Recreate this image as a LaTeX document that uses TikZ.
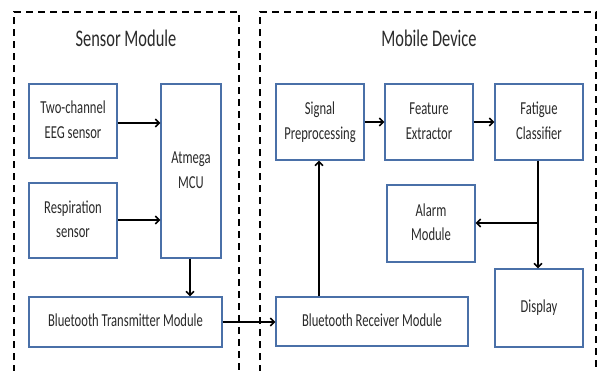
\documentclass[tikz,border=0pt]{standalone}
\usepackage{fontspec}
\setmainfont{Carlito}
\usetikzlibrary{arrows.meta}
\definecolor{boxblue}{HTML}{4A70A8}
\definecolor{txt}{HTML}{2A2A2A}
\newcommand\tx[1]{\scalebox{1}[1.45]{\begin{tabular}{@{}c@{}}#1\end{tabular}}}
\tikzset{
  blk/.style={draw=boxblue, line width=1.3pt, fill=white, inner sep=0pt, text=txt, font=\fontsize{12.6}{17}\selectfont},
  arr/.style={line width=1.5pt, -{Straight Barb[length=4pt,width=8pt]}},
  plain/.style={line width=1.5pt},
  frame/.style={line width=1.4pt, dash pattern=on 7pt off 5pt},
  ttl/.style={text=txt, font=\fontsize{16.4}{20}\selectfont}
}
\begin{document}
\begin{tikzpicture}[x=1pt,y=-1pt]
\useasboundingbox[fill=white] (0,0) rectangle (600,370);
% frames
\draw[frame] (14,372) -- (14,12) -- (239,12) -- (239,372);
\draw[frame] (260,372) -- (260,12) -- (596,12) -- (596,372);
\node[ttl] (t1) at (126,41) {\tx{Sensor Module}};
\node[ttl] (t2) at (429,41) {\tx{Mobile Device}};
% sensor side
\node[blk, minimum width=88pt, minimum height=74pt] (eeg) at (73,121) {\tx{Two-channel\\EEG sensor}};
\node[blk, minimum width=88pt, minimum height=75pt] (resp) at (73,220.5) {\tx{Respiration\\sensor}};
\node[blk, minimum width=60pt, minimum height=174pt] (mcu) at (191,171) {\tx{Atmega\\MCU}};
\node[blk, minimum width=193pt, minimum height=50pt] (btt) at (125.5,322) {\tx{Bluetooth Transmitter Module}};
% mobile side
\node[blk, minimum width=88pt, minimum height=76pt] (sig) at (320,122) {\tx{Signal\\Preprocessing}};
\node[blk, minimum width=88pt, minimum height=76pt] (feat) at (429,122) {\tx{Feature\\Extractor}};
\node[blk, minimum width=88pt, minimum height=76pt] (fat) at (539,122) {\tx{Fatigue\\Classifier}};
\node[blk, minimum width=88pt, minimum height=77pt] (alarm) at (431,223.5) {\tx{Alarm\\Module}};
\node[blk, minimum width=88pt, minimum height=78pt] (disp) at (539,308) {\tx{Display}};
\node[blk, minimum width=192pt, minimum height=49pt] (btr) at (372,321.5) {\tx{Bluetooth Receiver Module}};
% connectors
\draw[arr] (eeg.east |- 0,123) -- (mcu.west |- 0,123);
\draw[arr] (resp.east |- 0,220) -- (mcu.west |- 0,220);
\draw[arr] (mcu.south -| 190,0) -- (btt.north -| 190,0);
\draw[arr] (btt.east |- 0,322) -- (btr.west |- 0,322);
\draw[arr] (btr.north -| 319,0) -- (sig.south -| 319,0);
\draw[arr] (sig) -- (feat);
\draw[arr] (feat) -- (fat);
\coordinate (j) at (538,223);
\draw[plain] (fat.south -| j) -- (j);
\draw[arr] (j) -- (disp.north -| j);
\draw[arr] (j) -- (alarm.east |- j);
\end{tikzpicture}
\end{document}
